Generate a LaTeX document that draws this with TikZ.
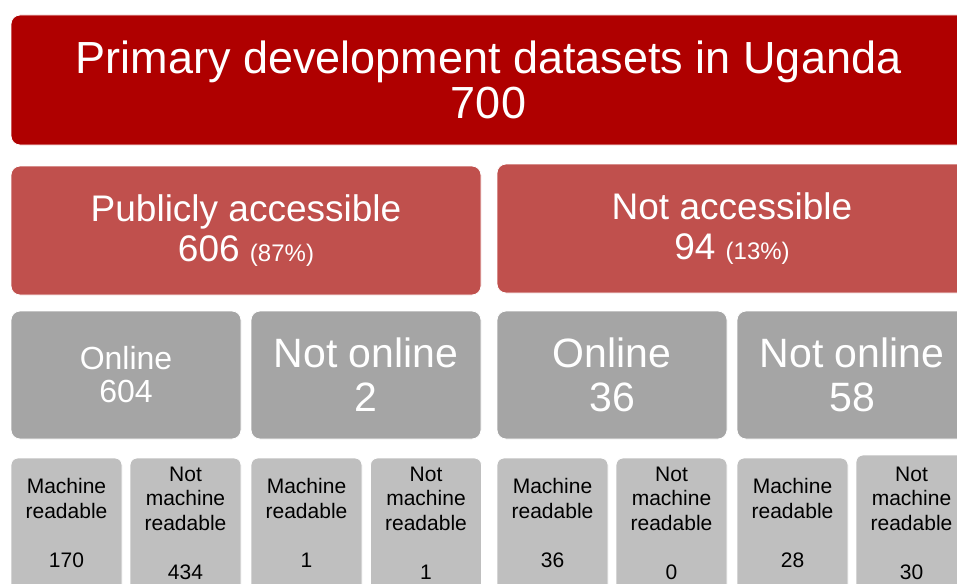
\documentclass[tikz,border=0pt]{standalone}
\usepackage{fontspec}
\setmainfont{Liberation Sans}
\usepackage{tikz}

\definecolor{topred}{HTML}{AF0000}
\definecolor{midred}{HTML}{C0504D}
\definecolor{midgray}{HTML}{A5A5A5}
\definecolor{lowgray}{HTML}{BFBFBF}

\tikzset{
  tile/.style={rounded corners=9pt, draw=white, line width=0.8pt, align=center,
    inner sep=0pt, text=white},
  toptile/.style={tile, fill=topred, minimum width=955pt, minimum height=130pt,
    font=\fontsize{45}{45}\selectfont},
  redtile/.style={tile, fill=midred, minimum width=470pt, minimum height=129pt,
    font=\fontsize{37}{40}\selectfont},
  graytile/.style={tile, fill=midgray, minimum width=230pt, minimum height=128pt,
    font=\fontsize{41}{44}\selectfont},
  leaftile/.style={tile, rounded corners=7pt, fill=lowgray, text=black,
    minimum width=111pt, minimum height=140pt, font=\fontsize{21}{24.5}\selectfont}
}
\newcommand{\pct}[1]{{\fontsize{24}{24}\selectfont(#1\%)}}
% number at the foot of a leaf tile, with extra depth so the tile runs off the page
\newcommand{\leafnum}[1]{#1\rule[-10pt]{0pt}{10pt}}

\begin{document}
\begin{tikzpicture}[x=1pt,y=-1pt]
\useasboundingbox (0,0) rectangle (957,583);
\clip (0,0) rectangle (957,583);

% nodes
\node[toptile] (all) at (488.5,80) {Primary development datasets in Uganda\\700};

\node[redtile] (pub) at (246,230.5) {Publicly accessible\\606 \pct{87}};
\node[redtile] (nacc) at (732,228.5) {Not accessible\\94 \pct{13}};

\node[graytile, font=\fontsize{32}{33}\selectfont] (pubon) at (126,375) {Online\\604};
\node[graytile] (puboff) at (366,375) {Not online\\2};
\node[graytile] (naccon) at (612,375) {Online\\36};
\node[graytile] (naccoff) at (852,375) {Not online\\58};

\node[leaftile] (pubonmr) at (66.5,528) {Machine\\readable\\[24.5pt]\leafnum{170}};
\node[leaftile] (pubonnmr) at (185.5,528) {Not\\machine\\readable\\[24.5pt]\leafnum{434}};
\node[leaftile] (puboffmr) at (306.5,528) {Machine\\readable\\[24.5pt]\leafnum{1}};
\node[leaftile] (puboffnmr) at (426,528) {Not\\machine\\readable\\[24.5pt]\leafnum{1}};
\node[leaftile] (nacconmr) at (552.5,528) {Machine\\readable\\[24.5pt]\leafnum{36}};
\node[leaftile] (nacconnmr) at (671.5,528) {Not\\machine\\readable\\[24.5pt]\leafnum{0}};
\node[leaftile] (naccoffmr) at (792.5,528) {Machine\\readable\\[24.5pt]\leafnum{28}};
\node[leaftile, minimum height=146pt] (naccoffnmr) at (911.5,528) {Not\\machine\\readable\\[24.5pt]\leafnum{30}};
\end{tikzpicture}
\end{document}
